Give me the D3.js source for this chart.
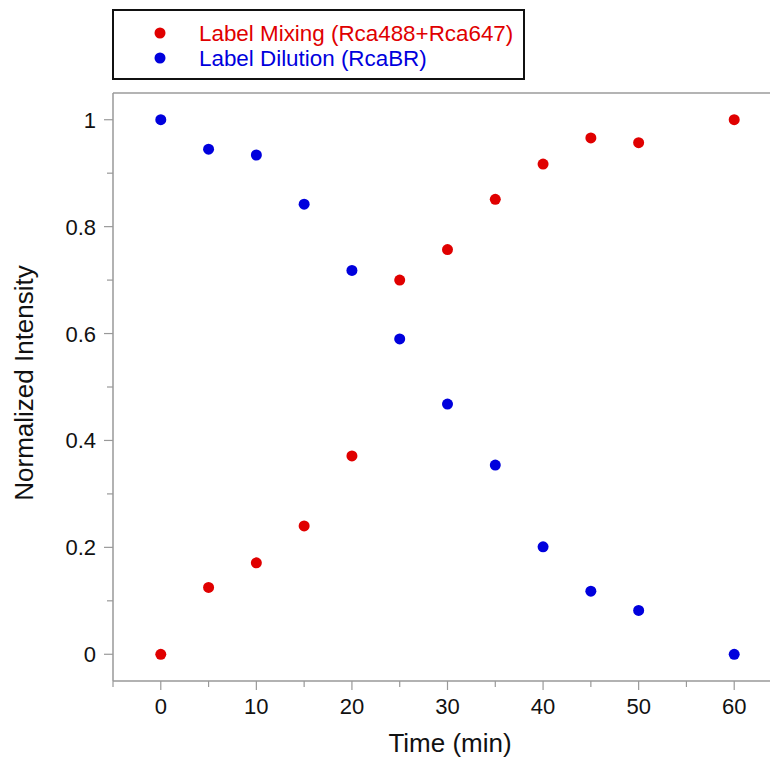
<!DOCTYPE html>
<html>
<head>
<meta charset="utf-8">
<script src="https://cdn.jsdelivr.net/npm/d3@7"></script>
<style>
  body { margin: 0; background: #fff; }
  svg { display: block; font-family: "Liberation Sans", Arial, sans-serif; }
</style>
</head>
<body>
<svg id="chart" width="770" height="757"></svg>
<script>
// time points (min)
var times = [0, 5, 10, 15, 20, 25, 30, 35, 40, 45, 50, 60];
// Label Mixing (Rca488+Rca647)
var mixing = [0, 0.125, 0.171, 0.240, 0.371, 0.700, 0.757, 0.851, 0.917, 0.966, 0.957, 1.0];
// Label Dilution (RcaBR)
var dilution = [1.0, 0.945, 0.934, 0.842, 0.718, 0.590, 0.468, 0.354, 0.201, 0.118, 0.082, 0];
var seriesNames = ["Label Mixing (Rca488+Rca647)", "Label Dilution (RcaBR)"];
var seriesColors = ["#e00000", "#0000dd"];
var xTicks = [0, 10, 20, 30, 40, 50, 60];
var yTicks = [0, 0.2, 0.4, 0.6, 0.8, 1];

// plot box (note: "top" is taken by window.top)
var pLeft = 113, pTop = 93, pRight = 782, pBottom = 681;

var svg = d3.select("#chart");

var x = d3.scaleLinear().domain([-5, 65]).range([pLeft, pRight]);
var y = d3.scaleLinear().domain([-0.05, 1.05]).range([pBottom, pTop]);

// top frame line
svg.append("line")
    .attr("x1", pLeft).attr("x2", 770)
    .attr("y1", pTop).attr("y2", pTop)
    .attr("stroke", "#b4b4b4").attr("stroke-width", 2);

// x axis
var xAxis = svg.append("g")
    .attr("transform", "translate(0," + pBottom + ")");
xAxis.append("line")
    .attr("x1", pLeft).attr("x2", 770)
    .attr("stroke", "#999").attr("stroke-width", 1.5);
xAxis.selectAll(".minor")
    .data(d3.range(-5, 66, 5).filter(function(d) { return d % 10 != 0; }))
    .enter().append("line")
    .attr("x1", function(d) { return x(d); }).attr("x2", function(d) { return x(d); })
    .attr("y1", 0).attr("y2", 6)
    .attr("stroke", "#999").attr("stroke-width", 1.2);
xAxis.selectAll(".major")
    .data(xTicks)
    .enter().append("line")
    .attr("x1", function(d) { return x(d); }).attr("x2", function(d) { return x(d); })
    .attr("y1", 0).attr("y2", 9)
    .attr("stroke", "#999").attr("stroke-width", 1.2);
xAxis.selectAll("text")
    .data(xTicks)
    .enter().append("text")
    .attr("x", function(d) { return x(d); })
    .attr("y", 33)
    .attr("text-anchor", "middle")
    .attr("font-size", 22)
    .attr("fill", "#111")
    .text(function(d) { return d; });

// y axis
var yAxis = svg.append("g")
    .attr("transform", "translate(" + pLeft + ",0)");
yAxis.append("line")
    .attr("y1", pTop).attr("y2", pBottom)
    .attr("stroke", "#999").attr("stroke-width", 1.5);
yAxis.selectAll(".minor")
    .data([0.1, 0.3, 0.5, 0.7, 0.9])
    .enter().append("line")
    .attr("y1", function(d) { return y(d); }).attr("y2", function(d) { return y(d); })
    .attr("x1", 0).attr("x2", -6)
    .attr("stroke", "#999").attr("stroke-width", 1.2);
yAxis.selectAll(".major")
    .data(yTicks)
    .enter().append("line")
    .attr("y1", function(d) { return y(d); }).attr("y2", function(d) { return y(d); })
    .attr("x1", 0).attr("x2", -9)
    .attr("stroke", "#999").attr("stroke-width", 1.2);
yAxis.selectAll("text")
    .data(yTicks)
    .enter().append("text")
    .attr("x", -17)
    .attr("y", function(d) { return y(d) + 8; })
    .attr("text-anchor", "end")
    .attr("font-size", 22)
    .attr("fill", "#111")
    .text(function(d) { return d; });

// axis titles
svg.append("text")
    .attr("x", 450).attr("y", 752)
    .attr("text-anchor", "middle")
    .attr("font-size", 26)
    .attr("fill", "#111")
    .text("Time (min)");
svg.append("text")
    .attr("transform", "translate(33,383) rotate(-90)")
    .attr("text-anchor", "middle")
    .attr("font-size", 26)
    .attr("fill", "#111")
    .text("Normalized Intensity");

// points
var series = [mixing, dilution];
series.forEach(function(vals, s) {
    svg.append("g").selectAll("circle")
        .data(vals)
        .enter().append("circle")
        .attr("cx", function(d, i) { return x(times[i]); })
        .attr("cy", function(d) { return y(d); })
        .attr("r", 5.5)
        .attr("fill", seriesColors[s]);
});

// legend
var legend = svg.append("g");
legend.append("rect")
    .attr("x", 113).attr("y", 10)
    .attr("width", 411).attr("height", 69)
    .attr("fill", "#fff")
    .attr("stroke", "#111").attr("stroke-width", 2);
seriesNames.forEach(function(name, i) {
    legend.append("circle")
        .attr("cx", 160).attr("cy", 33 + i * 25)
        .attr("r", 5.5)
        .attr("fill", seriesColors[i]);
    legend.append("text")
        .attr("x", 199).attr("y", 41 + i * 25)
        .attr("font-size", 22.4)
        .attr("fill", seriesColors[i])
        .text(name);
});
</script>
</body>
</html>
